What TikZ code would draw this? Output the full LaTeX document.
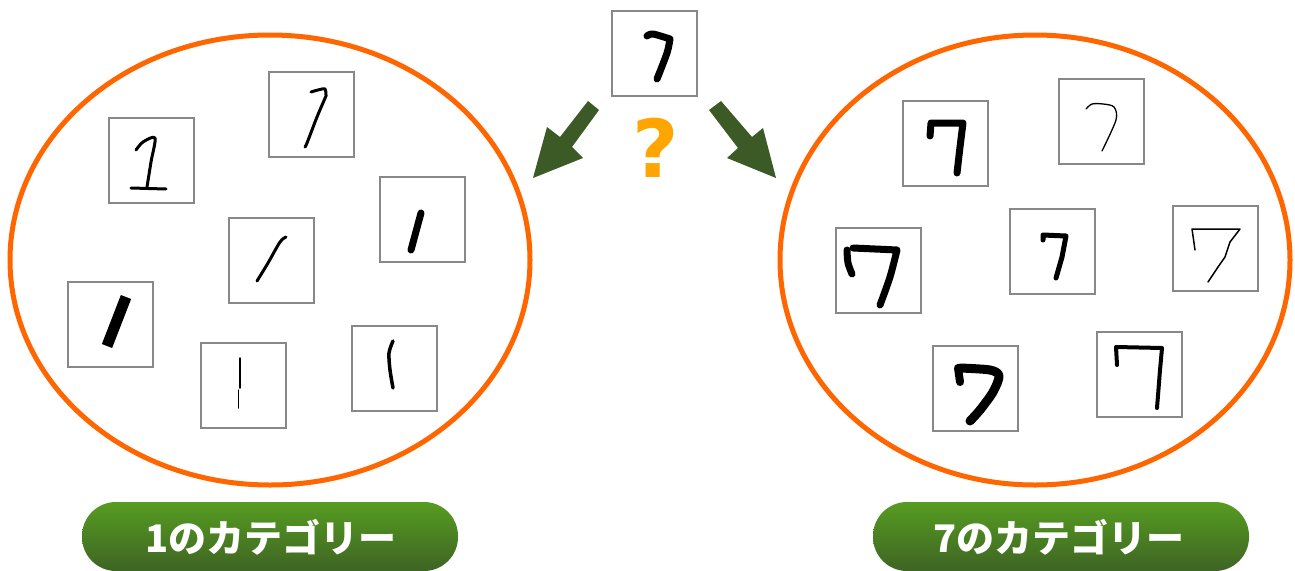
\documentclass[tikz,border=0pt]{standalone}
\usepackage{fontspec}
\newfontfamily\jpfont{Noto Sans CJK JP}
\newfontfamily\qfont{DejaVu Sans}
\usetikzlibrary{shapes.geometric}
\definecolor{ringorange}{HTML}{FF6600}
\definecolor{arrowgreen}{HTML}{3B5A25}
\definecolor{qorange}{HTML}{FFA500}
\definecolor{boxgray}{HTML}{888888}
\definecolor{pilltop}{HTML}{569C21}
\definecolor{pillbottom}{HTML}{3E6424}
\tikzset{
  ring/.style={draw=ringorange, line width=5pt, ellipse, inner sep=0pt},
  imgbox/.style={draw=boxgray, line width=2pt, fill=white, rectangle,
    minimum width=85pt, minimum height=85pt, inner sep=0pt},
  pen/.style={draw=black, line cap=round, line join=round},
  blockarrow/.style={fill=arrowgreen, draw=none},
  pill/.style={rounded corners=34pt, top color=pilltop, bottom color=pillbottom, draw=none},
  pilltext/.style={text=white, font=\jpfont\bfseries\fontsize{38}{38}\selectfont, inner sep=0pt},
}
\begin{document}
\begin{tikzpicture}[x=1pt, y=-1pt]
\useasboundingbox (0,0) rectangle (1295,570);

% the two category rings
\node[ring, minimum width=520pt, minimum height=450pt] (ringA) at (270,260) {};
\node[ring, minimum width=510pt, minimum height=450pt] (ringB) at (1035,260) {};

% sample to classify
\node[imgbox] (query) at (654.5,53) {};
\draw[pen, line width=7pt] plot[smooth] coordinates {(647,36) (653,34) (670,39)}
  -- plot[smooth] coordinates {(670,39) (667,53) (657,79)};

% block arrows towards each ring
\path[blockarrow] (588,101) -- (599,110) -- (572,147) -- (583,158) -- (533,178)
  -- (547,127) -- (560,137) -- cycle;
\path[blockarrow] (721,101) -- (752,137) -- (763,128) -- (776,178) -- (727,158)
  -- (738,148) -- (709,110) -- cycle;
\node[text=qorange, font=\qfont\bfseries\fontsize{80}{80}\selectfont, inner sep=0pt]
  (qmark) at (656,148) {?};

% samples of the digit one
\node[imgbox] (a1) at (151,160.5) {};
\draw[pen, line width=3pt] plot[smooth] coordinates {(136,150) (143,142) (155,138) (151,162) (147,187)};
\draw[pen, line width=3pt] (131,188) -- (166,189);

\node[imgbox] (a2) at (311,114.5) {};
\draw[pen, line width=3pt] plot[smooth] coordinates {(311,92) (318,90) (325,89) (326,96)}
  -- plot[smooth] coordinates {(326,96) (317,117) (307,143) (305,147)};

\node[imgbox] (a3) at (422,219) {};
\draw[pen, line width=7pt] (421,213) -- (411,250);

\node[imgbox] (a4) at (271,260.5) {};
\draw[pen, line width=3pt] plot[smooth] coordinates {(286,237) (280,242) (268,263) (257,281)};

\node[imgbox] (a5) at (110,324.5) {};
\draw[draw=black, line width=11pt, line cap=butt] (126,297) -- (107,346);

\node[imgbox] (a6) at (243,385.5) {};
\draw[pen, line width=1.5pt] (240,358) -- (240,388);
\draw[pen, line width=1.5pt] (238.5,390) -- (238.5,408);

\node[imgbox] (a7) at (394.5,368.5) {};
\draw[pen, line width=3.5pt] plot[smooth] coordinates {(393,341) (389,353) (390,370) (393,388)};

% samples of the digit seven
\node[imgbox] (b1) at (945,143) {};
\draw[pen, line width=7pt] (930,136) -- (931,123) -- (963,123) -- (960,147) -- (957,173);

\node[imgbox] (b2) at (1101.5,121.5) {};
\draw[pen, line width=1.3pt] plot[smooth] coordinates {(1086,109) (1092,104) (1103,104) (1114,107) (1116,120) (1102,151)};

\node[imgbox] (b3) at (878,270.5) {};
\draw[pen, line width=7pt] plot[smooth] coordinates {(847,250) (848,263) (852,274)};
\draw[pen, line width=7pt] (853,248) -- (897,250) -- plot[smooth] coordinates {(897,250) (890,277) (880,305)};

\node[imgbox] (b4) at (1052.5,251.5) {};
\draw[pen, line width=5pt] (1043,240) -- (1043,235) -- (1066,236) -- (1062,257) -- (1056,278);

\node[imgbox] (b5) at (1215,248.5) {};
\draw[pen, line width=1.5pt] (1195,250) -- (1192,229) -- (1240,229) -- (1230,242) -- (1225,257)
  -- (1218,267) -- (1208,282);

\node[imgbox] (b6) at (975,388.5) {};
\draw[pen, line width=8pt] (958,368) -- (960,382);
\draw[pen, line width=9pt] plot[smooth] coordinates {(960,368) (990,370) (999,376) (993,392) (980,410) (970,421)};

\node[imgbox] (b7) at (1139.5,374.5) {};
\draw[pen, line width=4pt] (1117,365) -- (1116,347) -- (1162,348) -- (1160,370) -- (1157,408);

% category labels
\path[pill] (82,502) rectangle (458,571);
\node[pilltext] (labA) at (271,537) {1のカテゴリー};
\path[pill] (873,502) rectangle (1249,571);
\node[pilltext] (labB) at (1059,537) {7のカテゴリー};
\end{tikzpicture}
\end{document}
